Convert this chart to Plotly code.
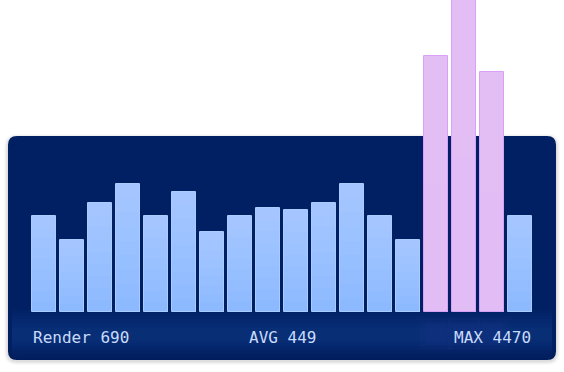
import plotly.graph_objects as go

# ---- data ----
frames = [f"F{i+1}" for i in range(18)]
values = [60, 45, 68, 80, 60, 75, 50, 60, 65, 64, 68, 80, 60, 45, 160, 195, 150, 60]
is_slow = [False]*14 + [True, True, True] + [False]
label_left = "Render 690"
label_mid = "AVG 449"
label_right = "MAX 4470"

W, H = 564, 372
ML, MR, MT, MB = 30, 30, 0, 60
PW, PH = W - ML - MR, H - MT - MB

def xp(px):
    return (px - ML) / PW

def yp(py):
    return (H - MB - py) / PH

def rrect(x0, y0, x1, y1, r):
    pts = [
        f"M {xp(x0+r)} {yp(y0)}",
        f"L {xp(x1-r)} {yp(y0)}",
        f"Q {xp(x1)} {yp(y0)} {xp(x1)} {yp(y0+r)}",
        f"L {xp(x1)} {yp(y1-r)}",
        f"Q {xp(x1)} {yp(y1)} {xp(x1-r)} {yp(y1)}",
        f"L {xp(x0+r)} {yp(y1)}",
        f"Q {xp(x0)} {yp(y1)} {xp(x0)} {yp(y1-r)}",
        f"L {xp(x0)} {yp(y0+r)}",
        f"Q {xp(x0)} {yp(y0)} {xp(x0+r)} {yp(y0)}",
        "Z",
    ]
    return " ".join(pts)

xs = list(range(len(frames)))
BW = 24/28
fills = ["#e2bcf4" if s else "#8db9ff" for s in is_slow]
lines = ["#d8a0f6" if s else "#a9ccff" for s in is_slow]

fig = go.Figure()
fig.add_trace(go.Bar(
    x=xs, y=values,
    marker=dict(color=fills, line=dict(width=0)),
    width=BW, hoverinfo="skip",
))
# vertical gradient on normal bars: stacked translucent overlays toward the top
N = 8
for k in range(1, N + 1):
    f = k / (N + 1)
    fig.add_trace(go.Bar(
        x=xs, y=[0 if s else v * f for v, s in zip(values, is_slow)],
        base=[v * (1 - f) for v in values],
        marker=dict(color="rgba(255,255,255,0.03)", line=dict(width=0)),
        width=BW, hoverinfo="skip",
    ))
fig.add_trace(go.Bar(
    x=xs, y=[v * 0.5 if s else 0 for v, s in zip(values, is_slow)],
    base=[v * 0.5 for v in values],
    marker=dict(color="rgba(255,255,255,0.04)", line=dict(width=0)),
    width=BW, hoverinfo="skip",
))
fig.add_trace(go.Bar(
    x=xs, y=values,
    marker=dict(color="rgba(0,0,0,0)", line=dict(color=lines, width=1)),
    width=BW, hoverinfo="skip",
))

shapes = []
for d, a in [(4, 0.025), (3, 0.03), (2, 0.035), (1, 0.04)]:
    shapes.append(dict(type="path", xref="paper", yref="paper", layer="below",
                       path=rrect(8-d, 136-d+2, 556+d, 360+d+1, 9+d),
                       fillcolor=f"rgba(0,0,0,{a})", line=dict(width=0)))
shapes.append(dict(type="path", xref="paper", yref="paper", layer="below",
                   path=rrect(8, 136, 556, 360, 9),
                   fillcolor="#012063", line=dict(width=0)))
c = 334
for h in [48, 42, 36, 30, 24, 18, 12]:
    shapes.append(dict(type="rect", xref="paper", yref="paper", layer="below",
                       x0=xp(12), x1=xp(552), y0=yp(c - h/2), y1=yp(c + h/2),
                       fillcolor="rgba(60,100,190,0.035)", line=dict(width=0)))
for t in [14, 10, 6]:
    shapes.append(dict(type="path", xref="paper", yref="paper", layer="below",
                       path=f"M {xp(8)} {yp(360-t)} L {xp(556)} {yp(360-t)} L {xp(556)} {yp(351)} "
                            f"Q {xp(556)} {yp(360)} {xp(547)} {yp(360)} L {xp(17)} {yp(360)} "
                            f"Q {xp(8)} {yp(360)} {xp(8)} {yp(351)} Z",
                       fillcolor="rgba(10,25,70,0.06)", line=dict(width=0)))
for i, s in enumerate(is_slow):
    if s:
        cx = 32 + 28*i + 12
        for w, hh in [(16, 16), (11, 11)]:
            shapes.append(dict(type="rect", xref="paper", yref="paper", layer="below",
                               x0=xp(cx-w), x1=xp(cx+w), y0=yp(334-hh), y1=yp(334+hh),
                               fillcolor="rgba(140,110,210,0.03)", line=dict(width=0)))

font = dict(family="DejaVu Sans Mono", size=16, color="#c9dbfb")
ann_y = yp(337)
annotations = [
    dict(text=label_left, x=xp(31), y=ann_y, xref="paper", yref="paper",
         xanchor="left", yanchor="middle", showarrow=False, font=font),
    dict(text=label_mid, x=xp(282), y=ann_y, xref="paper", yref="paper",
         xanchor="center", yanchor="middle", showarrow=False, font=font),
    dict(text=label_right, x=xp(533), y=ann_y, xref="paper", yref="paper",
         xanchor="right", yanchor="middle", showarrow=False, font=font),
]

fig.update_layout(
    width=W, height=H,
    margin=dict(l=ML, r=MR, t=MT, b=MB, pad=0),
    paper_bgcolor="white", plot_bgcolor="rgba(0,0,0,0)",
    showlegend=False, barmode="overlay",
    xaxis=dict(visible=False, range=[-0.5, len(frames) - 0.5], fixedrange=True),
    yaxis=dict(visible=False, range=[0, 195], fixedrange=True),
    shapes=shapes, annotations=annotations,
    bargap=0,
)

fig.write_html("out.html", config={"displayModeBar": False},
               post_script="document.body.style.margin='0';document.body.style.overflow='hidden';")
